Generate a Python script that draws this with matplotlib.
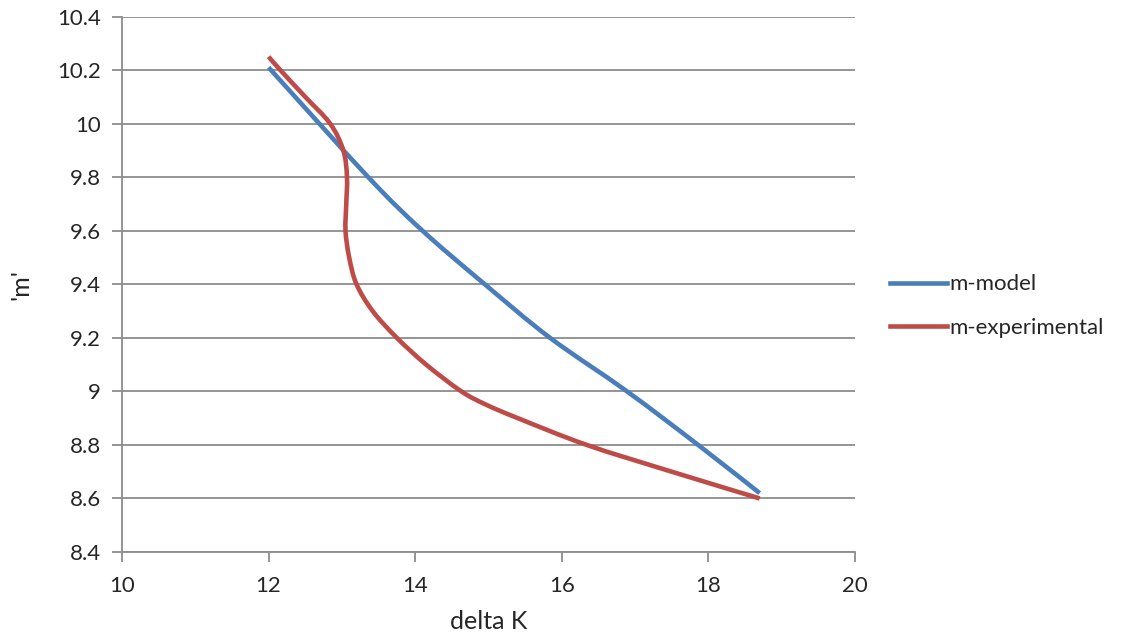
import matplotlib
matplotlib.use("Agg")
import matplotlib.pyplot as plt
from matplotlib.path import Path
from matplotlib.patches import PathPatch
from matplotlib.lines import Line2D

# Data
model_x = [12.0, 13.36, 14.1, 14.95, 15.84, 16.89, 17.86, 18.7]
model_y = [10.21, 9.8, 9.6, 9.4, 9.2, 9.0, 8.8, 8.62]

exp_x = [12.0, 12.16, 12.5, 12.84, 13.02, 13.07, 13.06, 13.05, 13.1, 13.2,
         13.42, 13.75, 14.15, 14.63, 14.97, 15.4, 16.34, 17.5, 18.7]
exp_y = [10.25, 10.2, 10.1, 10.0, 9.9, 9.8, 9.7, 9.6, 9.5, 9.4,
         9.3, 9.2, 9.1, 9.0, 8.95, 8.9, 8.8, 8.7, 8.6]

x_ticks = [10, 12, 14, 16, 18, 20]
y_ticks = [8.4, 8.6, 8.8, 9.0, 9.2, 9.4, 9.6, 9.8, 10.0, 10.2, 10.4]
y_tick_labels = ["8.4", "8.6", "8.8", "9", "9.2", "9.4", "9.6", "9.8", "10", "10.2", "10.4"]

plt.rcParams['font.family'] = ['Lato', 'DejaVu Sans']


def smooth_path(xs, ys):
    """Excel-like smoothed line: cubic Bezier segments through the points."""
    pts = list(zip(xs, ys))
    n = len(pts)
    verts = [pts[0]]
    codes = [Path.MOVETO]
    for i in range(n - 1):
        p0 = pts[i - 1] if i > 0 else pts[i]
        p1 = pts[i]
        p2 = pts[i + 1]
        p3 = pts[i + 2] if i + 2 < n else pts[i + 1]
        c1 = (p1[0] + (p2[0] - p0[0]) / 6.0, p1[1] + (p2[1] - p0[1]) / 6.0)
        c2 = (p2[0] - (p3[0] - p1[0]) / 6.0, p2[1] - (p3[1] - p1[1]) / 6.0)
        verts += [c1, c2, p2]
        codes += [Path.CURVE4] * 3
    return Path(verts, codes)


fig = plt.figure(figsize=(11.22, 6.43), dpi=100)
ax = fig.add_axes([0.1087, 0.1415, 0.762 - 0.1087, 0.9743 - 0.1415])

grid_c = "#8c8c8c"
blue = "#4a7ebb"
red = "#be4b48"
lw = 3.3

for xs, ys, c in [(model_x, model_y, blue), (exp_x, exp_y, red)]:
    ax.add_patch(PathPatch(smooth_path(xs, ys), facecolor="none", edgecolor=c,
                           lw=lw, capstyle="butt", joinstyle="round", zorder=3))

ax.set_xlim(10, 20)
ax.set_ylim(8.4, 10.4)
ax.set_xticks(x_ticks)
ax.set_xticklabels([str(v) for v in x_ticks])
ax.set_yticks(y_ticks)
ax.set_yticklabels(y_tick_labels)

ax.yaxis.grid(True, color=grid_c, lw=1.3)
ax.set_axisbelow(True)
for s in ["top", "right"]:
    ax.spines[s].set_visible(False)
for s in ["left", "bottom"]:
    ax.spines[s].set_color(grid_c)
    ax.spines[s].set_linewidth(1.3)

ax.tick_params(axis="both", colors=grid_c, length=7, width=1.3, labelsize=16,
               labelcolor="#262626")
ax.tick_params(axis="x", pad=10)
ax.tick_params(axis="y", pad=8)

ax.set_xlabel("delta K", fontsize=18, color="#262626", labelpad=10)
ax.set_ylabel("'m'", fontsize=18, color="#262626", labelpad=18)

handles = [Line2D([], [], color=blue, lw=lw), Line2D([], [], color=red, lw=lw)]
leg = ax.legend(handles, ["m-model", "m-experimental"], loc="upper left",
                bbox_to_anchor=(1.035, 0.535), frameon=False,
                fontsize=16, handlelength=2.6, handletextpad=0.1,
                labelspacing=1.05, borderaxespad=0)
for t in leg.get_texts():
    t.set_color("#262626")

fig.savefig("out.png", dpi=100)
